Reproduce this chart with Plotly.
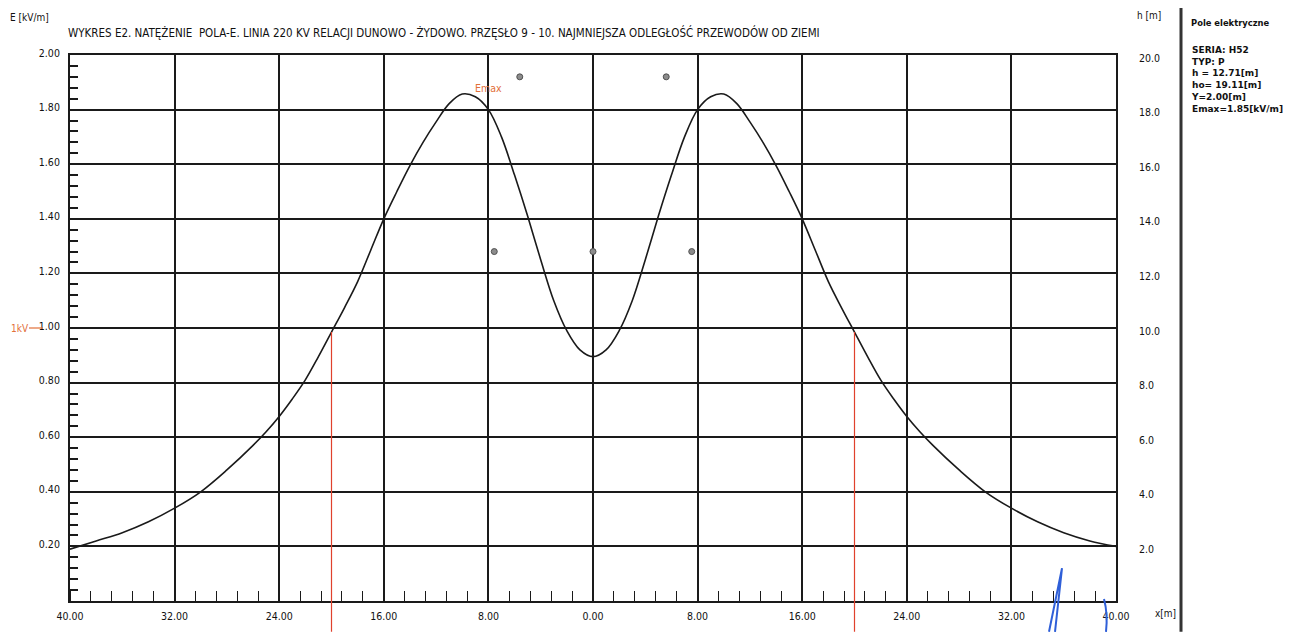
import numpy as np
import plotly.graph_objects as go

# ---------------- data ----------------
X_M = [-40, -38, -36, -34, -32, -30, -28, -26, -25, -24, -23, -22, -21, -20,
       -19, -18, -17, -16, -15, -14, -13, -12, -11, -10, -9, -8, -7, -6, -5,
       -4, -3, -2, -1, 0, 1, 2, 3, 4, 5, 6, 7, 8, 9, 10, 11, 12, 13, 14, 15,
       16, 17, 18, 19, 20, 21, 22, 23, 24, 25, 26, 28, 30, 32, 34, 36, 38, 40]
E_KVM = [0.19, 0.22, 0.25, 0.29, 0.34, 0.40, 0.48, 0.57, 0.62, 0.676, 0.74, 0.81, 0.895, 0.985,
         1.075, 1.17, 1.285, 1.40, 1.50, 1.595, 1.68, 1.755, 1.822, 1.857, 1.847, 1.80, 1.70, 1.56, 1.41,
         1.25, 1.10, 0.99, 0.92, 0.895, 0.92, 0.99, 1.10, 1.25, 1.41, 1.56, 1.70, 1.80, 1.847, 1.857, 1.822, 1.755, 1.68, 1.595, 1.50,
         1.40, 1.285, 1.17, 1.075, 0.985, 0.895, 0.81, 0.74, 0.676, 0.62, 0.57, 0.48, 0.40, 0.34, 0.29, 0.25, 0.22, 0.20]

PHASE_X = [-7.55, 0.0, 7.55]
PHASE_H = [12.8, 12.8, 12.8]
EARTH_X = [-5.6, 5.6]
EARTH_H = [19.2, 19.2]

LIMIT_X = [-20.0, 20.0]          # where E = 1 kV/m
LIMIT_E = 1.0

X_TICKS = [-40, -32, -24, -16, -8, 0, 8, 16, 24, 32, 40]
X_TICKTEXT = ["40.00", "32.00", "24.00", "16.00", "8.00", "0.00", "8.00", "16.00", "24.00", "32.00", "40.00"]
E_TICKS = [0.2, 0.4, 0.6, 0.8, 1.0, 1.2, 1.4, 1.6, 1.8, 2.0]
E_TICKTEXT = ["0.20", "0.40", "0.60", "0.80", "1.00", "1.20", "1.40", "1.60", "1.80", "2.00"]
H_TICKS = [2, 4, 6, 8, 10, 12, 14, 16, 18, 20]
H_TICKTEXT = ["2.0", "4.0", "6.0", "8.0", "10.0", "12.0", "14.0", "16.0", "18.0", "20.0"]

TITLE = ("WYKRES E2. NATĘŻENIE  POLA-E. LINIA 220 KV RELACJI DUNOWO - ŻYDOWO. "
         "PRZĘSŁO 9 - 10. NAJMNIEJSZA ODLEGŁOŚĆ PRZEWODÓW OD ZIEMI")
INFO_HEAD = "Pole elektryczne"
INFO_LINES = ["SERIA: H52", "TYP: P", "h = 12.71[m]", "ho= 19.11[m]", "Y=2.00[m]", "Emax=1.85[kV/m]"]

X_RANGE = [-40, 40]
E_RANGE = [0, 2.0]
H_RANGE = [0, 20]

# ---------------- layout geometry (screen pixels; page has an 8px body margin) ----------------
VIEW_W, VIEW_H = 1300, 634
BODY = 8
W_PX, H_PX = VIEW_W - BODY, VIEW_H - BODY
L, R, T, B = 70, 1116, 55, 605          # plot frame on screen
PW, PH = R - L, B - T


def px_x(p):
    return (p - L) / PW


def px_y(p):
    return (B - p) / PH


FONT = "DejaVu Sans Condensed, Liberation Sans Narrow, Liberation Sans, Arial"
BOLD_FONT = "DejaVu Sans, Liberation Sans, Arial"
ORANGE = "#e2703a"
RED = "#e0412c"
BLUE = "#2f5fd8"
INK = "#1a1a1a"

fig = go.Figure()

fig.add_trace(go.Scatter(x=X_M, y=E_KVM, mode="lines",
                         line=dict(color=INK, width=1.6, shape="spline", smoothing=1.0),
                         showlegend=False, hoverinfo="skip"))
fig.add_trace(go.Scatter(x=PHASE_X + EARTH_X, y=PHASE_H + EARTH_H, mode="markers", yaxis="y2",
                         marker=dict(size=6, color="#8c8c8c", line=dict(color="#505050", width=1)),
                         showlegend=False, hoverinfo="skip"))

shapes = []
e_at_limit = np.interp(LIMIT_X, X_M, E_KVM)
for xv, ev in zip(LIMIT_X, e_at_limit):
    shapes.append(dict(type="line", xref="x", yref="paper", x0=xv, x1=xv,
                       y0=px_y(VIEW_H + 2), y1=(ev - E_RANGE[0]) / (E_RANGE[1] - E_RANGE[0]),
                       line=dict(color=RED, width=1.2), layer="above"))
# 1 kV marker line to the left of the axis
shapes.append(dict(type="line", xref="paper", yref="y", x0=px_x(29), x1=px_x(43), y0=LIMIT_E, y1=LIMIT_E,
                   line=dict(color=ORANGE, width=1.2)))
# separator of the info panel
shapes.append(dict(type="line", xref="paper", yref="paper", x0=px_x(1181), x1=px_x(1181),
                   y0=px_y(VIEW_H + 2), y1=px_y(5), line=dict(color="#333333", width=3)))
# hand-drawn pen strokes on the scan
shapes.append(dict(type="path", xref="paper", yref="paper",
                   path=f"M {px_x(1049)} {px_y(636)} L {px_x(1062)} {px_y(572)} L {px_x(1055)} {px_y(636)}",
                   line=dict(color=BLUE, width=2)))
shapes.append(dict(type="path", xref="paper", yref="paper",
                   path=f"M {px_x(1104)} {px_y(603)} Q {px_x(1108)} {px_y(618)} {px_x(1106)} {px_y(636)}",
                   line=dict(color=BLUE, width=2)))

ann = []


def add_text(text, x, y, size=10, color="#111111", xanchor="left", bold=False, xref="paper", yref="paper",
             family=FONT, yanchor="middle"):
    ann.append(dict(text=f"<b>{text}</b>" if bold else text, x=x, y=y, xref=xref, yref=yref,
                    xanchor=xanchor, yanchor=yanchor, showarrow=False,
                    font=dict(family=family, size=size, color=color)))


add_text("E [kV/m]", px_x(8), px_y(17), size=10)
add_text(TITLE, px_x(66), px_y(32), size=11.5)
add_text("h [m]", px_x(1149), px_y(15), size=10, xanchor="center")
add_text("x[m]", px_x(1165), px_y(618), size=10, xanchor="center")
add_text(INFO_HEAD, px_x(1189), px_y(23), size=8.4, bold=True, family=BOLD_FONT)
ann.append(dict(text="<b>" + "<br>".join(INFO_LINES) + "</b>", x=px_x(1189), y=px_y(43),
                xref="paper", yref="paper", xanchor="left", yanchor="top", align="left",
                showarrow=False, font=dict(family=BOLD_FONT, size=9, color="#111111")))
add_text("1kV", px_x(9), LIMIT_E, size=10, color=ORANGE, yref="y")
add_text("Emax", -8.0, 1.878, size=10.5, color=ORANGE, xanchor="center", xref="x", yref="y")

fig.update_layout(
    width=W_PX, height=H_PX,
    margin=dict(l=L - BODY, r=W_PX - (R - BODY), t=T - BODY, b=H_PX - (B - BODY), pad=0),
    paper_bgcolor="white", plot_bgcolor="white",
    showlegend=False,
    shapes=shapes, annotations=ann,
    font=dict(family=FONT, size=10, color="#111111"),
    xaxis=dict(range=X_RANGE, tickmode="array", tickvals=X_TICKS, ticktext=X_TICKTEXT,
               showgrid=True, gridcolor=INK, gridwidth=1.6, zeroline=False,
               showline=True, mirror=True, linecolor=INK, linewidth=2,
               ticks="", ticklabelstandoff=4,
               minor=dict(tickmode="linear", tick0=-40, dtick=1.6, ticks="inside", ticklen=10,
                          tickwidth=1.4, tickcolor=INK, showgrid=False),
               tickfont=dict(family=FONT, size=10.5)),
    yaxis=dict(range=E_RANGE, tickmode="array", tickvals=E_TICKS, ticktext=E_TICKTEXT,
               showgrid=True, gridcolor=INK, gridwidth=1.6, zeroline=False,
               showline=True, mirror=True, linecolor=INK, linewidth=2,
               ticks="inside", ticklen=8, tickwidth=1.4, tickcolor=INK, ticklabelstandoff=6,
               ticklabelshift=-2,
               minor=dict(tickmode="linear", tick0=0, dtick=0.04, ticks="inside", ticklen=8,
                          tickwidth=1.6, tickcolor=INK, showgrid=False),
               tickfont=dict(family=FONT, size=10.5)),
    yaxis2=dict(range=H_RANGE, overlaying="y", side="right", tickmode="array", tickvals=H_TICKS,
                ticktext=H_TICKTEXT, showgrid=False, zeroline=False, showline=False, ticks="",
                ticklabelstandoff=22, ticklabelshift=3, tickfont=dict(family=FONT, size=10.5)),
)

fig.write_html("out.html")
